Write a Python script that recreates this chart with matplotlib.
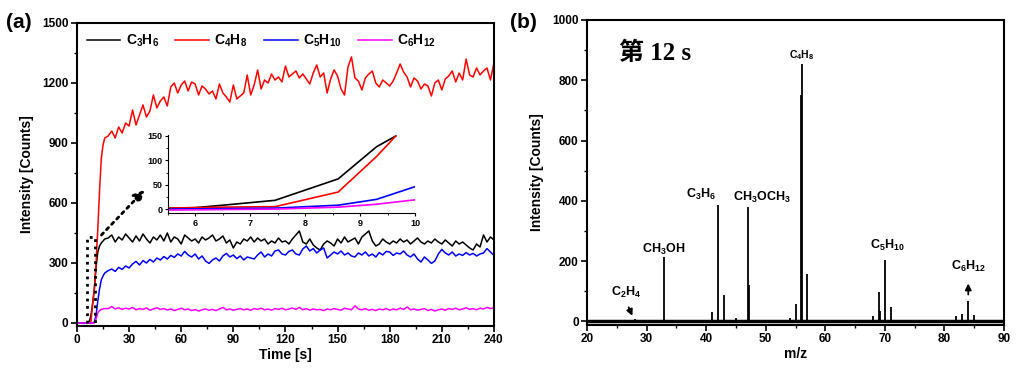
import numpy as np
import matplotlib
matplotlib.use('Agg')
import matplotlib.pyplot as plt
from matplotlib.ticker import MultipleLocator

plt.rcParams['font.family'] = ['Liberation Sans', 'DejaVu Sans']
plt.rcParams['font.weight'] = 'bold'
plt.rcParams['axes.labelweight'] = 'bold'
plt.rcParams['mathtext.fontset'] = 'custom'
plt.rcParams['mathtext.rm'] = 'Liberation Sans:bold'
plt.rcParams['mathtext.it'] = 'Liberation Sans:bold'
plt.rcParams['mathtext.bf'] = 'Liberation Sans:bold'

# ---- (a) time series ----
t_early = [0, 2, 4, 6, 7, 8, 9, 10, 11, 12, 13, 14, 15, 16]
t_late = np.arange(18, 241, 2)
time = np.concatenate([t_early, t_late])

c3h6 = [0, 0, 0, 0, 5, 35, 95, 170, 280, 355, 385, 400, 410, 420,
        425, 440, 405, 430, 415, 445, 425, 405, 435, 410,
        445, 420, 400, 430, 415, 440, 410, 450, 405, 430,
        420, 395, 440, 425, 410, 420, 400, 430, 415, 425,
        440, 410, 420, 435, 400, 415, 375, 405, 395, 420,
        410, 430, 405, 425, 410, 420, 395, 410, 400, 425,
        405, 410, 395, 420, 440, 460, 405, 395, 420, 390,
        375, 365, 395, 410, 400, 385, 420, 400, 430, 405,
        415, 425, 395, 430, 445, 460, 410, 385, 395, 420,
        405, 395, 410, 400, 420, 405, 415, 395, 410, 425,
        405, 395, 410, 400, 420, 405, 395, 415, 400, 385,
        410, 395, 405, 390, 375, 365, 395, 380, 440, 405,
        430, 415]
c4h8 = [0, 0, 0, 0, 0, 5, 90, 170, 300, 470, 660, 820, 890, 925,
        935, 960, 925, 980, 950, 1000, 985, 1065, 990, 1040,
        1090, 1030, 1060, 1140, 1075, 1110, 1130, 1085, 1180, 1200,
        1150, 1190, 1210, 1160, 1205, 1195, 1140, 1185, 1170, 1145,
        1160, 1120, 1195, 1150, 1130, 1105, 1190, 1120, 1135, 1150,
        1240, 1140, 1190, 1265, 1170, 1215, 1200, 1245, 1215, 1230,
        1205, 1285, 1230, 1245, 1260, 1225, 1245, 1220, 1195, 1250,
        1290, 1230, 1250, 1150, 1220, 1265, 1235, 1170, 1140, 1280,
        1330, 1225, 1210, 1165, 1225, 1245, 1260, 1200, 1180, 1215,
        1200, 1185, 1210, 1250, 1295, 1255, 1230, 1180, 1225, 1210,
        1170, 1195, 1185, 1135, 1200, 1215, 1165, 1220, 1235, 1260,
        1205, 1250, 1215, 1320, 1240, 1230, 1275, 1240, 1260, 1275,
        1215, 1300]
c5h10 = [0, 0, 0, 0, 0, 0, 0, 5, 40, 110, 170, 215, 235, 250,
         262, 270, 258, 278, 268, 285, 275, 295, 308, 290,
         312, 300, 318, 305, 325, 315, 332, 320, 338, 328,
         345, 335, 358, 340, 330, 345, 320, 335, 310, 298,
         315, 325, 310, 335, 348, 330, 340, 322, 335, 315,
         330, 325, 320, 340, 355, 330, 345, 335, 360, 365,
         345, 340, 358, 365, 345, 340, 370, 385, 360, 372,
         350, 365, 375, 325, 340, 355, 345, 360, 340, 350,
         335, 330, 350, 340, 355, 335, 345, 330, 352, 340,
         358, 355, 338, 350, 345, 360, 340, 330, 345, 320,
         305, 330, 315, 298, 310, 345, 368, 350, 340, 355,
         335, 345, 338, 352, 340, 348, 335, 345, 350, 372,
         355, 338]
c6h12 = [0, 0, 0, 0, 0, 0, 0, 0, 20, 50, 62, 68, 70, 72,
         72, 82, 70, 76, 68, 74, 70, 78, 66, 72,
         68, 75, 64, 70, 76, 68, 72, 65, 70, 62,
         68, 74, 66, 70, 62, 67, 60, 66, 70, 64,
         68, 62, 70, 78, 66, 70, 64, 68, 72, 66,
         70, 64, 72, 68, 74, 66, 70, 64, 72, 68,
         74, 66, 70, 75, 68, 78, 66, 72, 64, 70,
         66, 68, 62, 70, 66, 72, 68, 64, 74, 70,
         66, 86, 70, 66, 72, 64, 68, 62, 70, 66,
         72, 64, 70, 66, 74, 68, 80, 66, 70, 64,
         68, 72, 62, 68, 60, 66, 70, 64, 72, 68,
         74, 66, 70, 76, 68, 72, 66, 74, 70, 78,
         72, 76]

# inset (zoom of the onset)
ins_t_a = [5.5, 6, 6.5, 7.45, 8.6, 9.3, 9.65]
ins_c3h6 = [2, 3, 8, 18, 62, 128, 150]
ins_c4h8 = [2, 3, 4, 5, 35, 108, 150]
ins_t_b = [5.5, 6.5, 7.45, 8.6, 9.3, 10]
ins_c5h10 = [0, 1, 2, 8, 20, 46]
ins_c6h12 = [-2, -1, 0, 4, 10, 19]

# ---- (b) mass spectrum at 12 s ----
mz = [21, 24, 26, 28, 29, 30, 31, 33, 34, 35, 36, 37, 38, 39, 41, 42, 43, 44,
      45, 46, 47, 47.15, 48, 49, 50, 52, 53, 54, 55, 56, 56.08, 57, 58, 59,
      61, 62, 63, 65, 66, 67, 68, 69, 69.15, 70, 71, 72, 73, 75, 77, 79, 80,
      81, 82, 83, 84, 85, 86, 88, 89]
counts = [3, 2, 2, 8, 2, 2, 2, 213, 4, 3, 2, 3, 2, 2, 30, 385, 89, 5,
          12, 5, 379, 122, 6, 2, 2, 2, 3, 11, 58, 750, 855, 158, 5, 3,
          2, 2, 2, 3, 2, 3, 19, 99, 33, 203, 47, 3, 2, 3, 2, 5, 3,
          4, 19, 26, 69, 22, 3, 2, 2]

fig = plt.figure(figsize=(10.22, 3.75), dpi=100)

ax1 = fig.add_axes([0.0753, 0.1307, 0.408, 0.808])
ax1.plot(time, c3h6, color='black', lw=1.1, label='C$_3$H$_6$')
ax1.plot(time, c4h8, color='red', lw=1.1, label='C$_4$H$_8$')
ax1.plot(time, c5h10, color='blue', lw=1.1, label='C$_5$H$_{10}$')
ax1.plot(time, c6h12, color='magenta', lw=1.1, label='C$_6$H$_{12}$')
ax1.set_xlim(0, 240)
ax1.set_ylim(-15, 1500)
ax1.xaxis.set_major_locator(MultipleLocator(30))
ax1.xaxis.set_minor_locator(MultipleLocator(15))
ax1.yaxis.set_major_locator(MultipleLocator(300))
ax1.yaxis.set_minor_locator(MultipleLocator(150))
ax1.set_xlabel('Time [s]', fontsize=10, labelpad=1)
ax1.set_ylabel('Intensity [Counts]', fontsize=10, labelpad=6)
ax1.legend(loc='upper left', ncol=4, frameon=False, fontsize=10,
           handlelength=2.4, columnspacing=1.2, handletextpad=0.4,
           bbox_to_anchor=(0.0, 1.0), borderaxespad=0.3)

# dotted box around the onset and arrow to inset
ax1.plot([6, 6, 10.5, 10.5], [0, 430, 430, 0], color='black', ls=':', lw=2)
ax1.annotate('', xy=(40, 675), xytext=(13, 430),
             arrowprops=dict(arrowstyle='-|>', color='black', lw=2,
                             ls=':', mutation_scale=16))

ins = fig.add_axes([0.1644, 0.432, 0.2417, 0.208])
ins.plot(ins_t_a, ins_c3h6, color='black', lw=1.2)
ins.plot(ins_t_a, ins_c4h8, color='red', lw=1.2)
ins.plot(ins_t_b, ins_c5h10, color='blue', lw=1.2)
ins.plot(ins_t_b, ins_c6h12, color='magenta', lw=1.2)
ins.set_xlim(5.5, 10)
ins.set_ylim(-8, 152)
ins.xaxis.set_major_locator(MultipleLocator(1))
ins.xaxis.set_minor_locator(MultipleLocator(0.5))
ins.yaxis.set_major_locator(MultipleLocator(50))
ins.yaxis.set_minor_locator(MultipleLocator(25))
ins.spines['top'].set_visible(False)
ins.spines['right'].set_visible(False)
ins.patch.set_alpha(0)
ins.tick_params(labelsize=6.5, length=2.5, pad=1.5)
ins.tick_params(which='minor', length=1.5)

ax2 = fig.add_axes([0.5744, 0.1333, 0.408, 0.8134])
ax2.vlines(mz, 0, counts, color='black', lw=1.3)
ax2.axhline(0, color='black', lw=2.5)
ax2.set_xlim(20, 90)
ax2.set_ylim(-12, 1000)
ax2.xaxis.set_major_locator(MultipleLocator(10))
ax2.xaxis.set_minor_locator(MultipleLocator(5))
ax2.yaxis.set_major_locator(MultipleLocator(200))
ax2.yaxis.set_minor_locator(MultipleLocator(100))
ax2.set_xlabel('m/z', fontsize=10, labelpad=1)
ax2.set_ylabel('Intensity [Counts]', fontsize=10, labelpad=6)

ax2.text(31.4, 889, '第 12 s', fontsize=18, fontweight='bold',
         family=['Liberation Serif', 'Noto Sans CJK SC'],
         ha='center', va='center')
lab = dict(ha='center', va='center', fontsize=9, fontweight='bold')
ax2.text(26.5, 97, 'C$_2$H$_4$', **lab)
ax2.text(32.8, 240, 'CH$_3$OH', **lab)
ax2.text(39.1, 420, 'C$_3$H$_6$', **lab)
ax2.text(49.3, 412, 'CH$_3$OCH$_3$', **lab)
ax2.text(56.0, 882, 'C$_4$H$_8$', ha='center', va='center', fontsize=7.5)
ax2.text(70.5, 253, 'C$_5$H$_{10}$', **lab)
ax2.text(84.1, 182, 'C$_6$H$_{12}$', **lab)
ax2.annotate('', xy=(27.8, 10), xytext=(26.8, 55),
             arrowprops=dict(arrowstyle='-|>', color='black', lw=1.3,
                             mutation_scale=9))
ax2.annotate('', xy=(84.0, 135), xytext=(84.0, 80),
             arrowprops=dict(arrowstyle='-|>', color='black', lw=1.3,
                             mutation_scale=9))

for ax in (ax1, ax2):
    for s in ax.spines.values():
        s.set_linewidth(1.5)
    ax.tick_params(labelsize=8.5, length=4, width=1.2, pad=2)
    ax.tick_params(which='minor', length=2.5, width=1.0)

fig.text(0.006, 0.94, '(a)', fontsize=15, fontweight='bold', va='center')
fig.text(0.499, 0.94, '(b)', fontsize=15, fontweight='bold', va='center')

fig.savefig('out.png', dpi=100)
